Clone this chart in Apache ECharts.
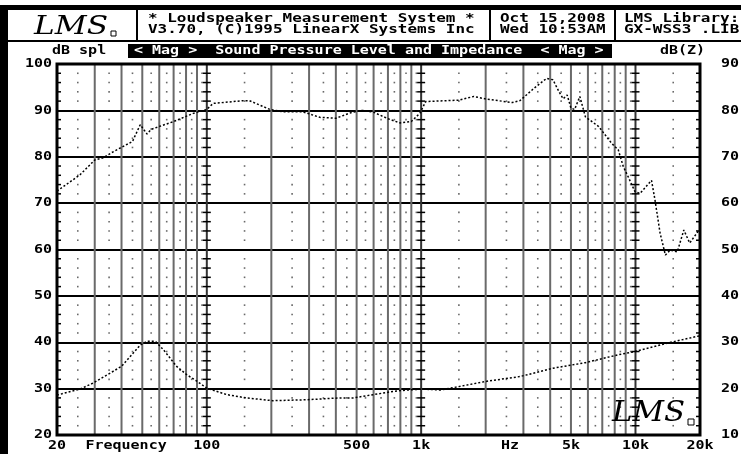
<!DOCTYPE html>
<html><head><meta charset="utf-8">
<script src="https://cdn.jsdelivr.net/npm/echarts@6/dist/echarts.min.js"></script>
<style>html,body{margin:0;padding:0;background:#fff}#c{width:741px;height:454px}</style>
</head><body><div id="c"></div>
<script>
// ---- data ----
const splFreq = [20, 25.6, 30, 33, 36, 45, 48.9, 52.6, 55, 70, 87, 100, 107, 148, 158, 197, 227, 280, 337, 400, 470, 530, 600, 700, 796, 900, 987, 1050, 1500, 1760, 2030, 2660, 2890, 3370, 3850, 4120, 4400, 4600, 4800, 5000, 5200, 5500, 5840, 6740, 7740, 8310, 8770, 9240, 9940, 10510, 11880, 12330, 13030, 13790, 14540, 15670, 16810, 17900, 19800];
const splDb = [72.6, 76.1, 79.3, 79.8, 80.9, 83.3, 86.9, 84.9, 85.9, 87.6, 89.4, 90.2, 91.5, 92.1, 92.1, 90.2, 89.7, 89.7, 88.5, 88.3, 89.5, 90.0, 89.6, 88.2, 87.3, 87.6, 89.4, 91.9, 92.2, 93.0, 92.4, 91.7, 92.1, 94.8, 96.9, 96.6, 94.0, 92.5, 93.3, 90.5, 90.2, 93.0, 88.6, 86.5, 82.9, 81.5, 77.9, 75.7, 72.5, 72.1, 74.9, 70.7, 63.5, 58.8, 59.9, 59.5, 64.2, 61.4, 64.2];
const zFreq = [20, 25.6, 29.5, 40, 48.9, 52.6, 57.5, 62.7, 72.3, 80.6, 89.9, 100, 124, 153, 203, 292, 418, 482, 599, 739, 856, 1025, 1230, 1370, 2030, 2890, 4120, 5840, 8310, 9940, 14000, 20000];
const zDb = [18.6, 19.9, 21.2, 24.8, 29.4, 30.2, 30.2, 28.4, 24.8, 23.0, 21.6, 20.1, 18.7, 18.0, 17.4, 17.6, 18.0, 18.0, 18.7, 19.4, 19.7, 19.9, 19.7, 20.1, 21.6, 22.6, 24.4, 25.6, 27.3, 28.0, 29.8, 31.4];

const leftLabels = [20, 30, 40, 50, 60, 70, 80, 90, 100];
const rightLabels = [10, 20, 30, 40, 50, 60, 70, 80, 90];
const xLabelFreq = [20, 42, 100, 500, 1000, 2600, 5000, 10000, 20000];
const xLabelText = ['20', 'Frequency', '100', '500', '1k', 'Hz', '5k', '10k', '20k'];

const gridFreqs = [30, 40, 50, 60, 70, 80, 90, 200, 300, 400, 500, 600, 700, 800, 900, 2000, 3000, 4000, 5000, 6000, 7000, 8000, 9000];
const decadeFreqs = [100, 1000, 10000];
const midFreqs = [25, 35, 45, 55, 65, 75, 85, 95, 150, 250, 350, 450, 550, 650, 750, 850, 950, 1500, 2500, 3500, 4500, 5500, 6500, 7500, 8500, 9500, 15000];
const minorDb = [22, 24, 26, 28, 32, 34, 36, 38, 42, 44, 46, 48, 52, 54, 56, 58, 62, 64, 66, 68, 72, 74, 76, 78, 82, 84, 86, 88, 92, 94, 96, 98];
const tickFreqs = [20, 100, 1000, 10000, 20000];

const headerLine1 = ['* Loudspeaker Measurement System *', 'Oct 15,2008', 'LMS Library:'];
const headerLine2 = ['V3.70, (C)1995 LinearX Systems Inc', 'Wed 10:53AM', 'GX-WSS3 .LIB'];
const titleText = '< Mag >  Sound Pressure Level and Impedance  < Mag >';

// ---- chart ----
const FONT = 'bold 12px "DejaVu Sans Mono"';
const SX = 1.25;
const chart = echarts.init(document.getElementById('c'), null, {renderer: 'canvas'});

const zip = (a, b) => a.map((v, i) => [v, b[i]]);
const dots = [];
midFreqs.forEach(f => minorDb.forEach(d => dots.push([f, d])));
const ticks = [];
tickFreqs.forEach(f => minorDb.forEach(d => ticks.push([f, d])));

function vline(color) {
  return (p, api) => {
    const a = api.coord([api.value(0), 20]);
    const b = api.coord([api.value(0), 100]);
    return {type: 'line', shape: {x1: a[0], y1: a[1], x2: b[0], y2: b[1]}, style: {stroke: color, lineWidth: 2}};
  };
}

chart.setOption({
  animation: false,
  backgroundColor: '#fff',
  grid: {left: 57, right: 41, top: 64, bottom: 19, show: true, borderColor: '#000', borderWidth: 3, backgroundColor: 'transparent', z: 10},
  xAxis: {type: 'log', logBase: 10, min: 20, max: 20000, axisLine: {show: false}, axisTick: {show: false}, axisLabel: {show: false}, splitLine: {show: false}},
  yAxis: [
    {type: 'value', min: 20, max: 100, interval: 10, position: 'left', axisLine: {show: false}, axisTick: {show: false}, axisLabel: {show: false},
      splitLine: {show: true, lineStyle: {color: '#000', width: 2}}},
    {type: 'value', min: 10, max: 90, interval: 10, position: 'right', axisLine: {show: false}, axisTick: {show: false}, axisLabel: {show: false}, splitLine: {show: false}}
  ],
  series: [
    {type: 'custom', silent: true, z: 1, data: gridFreqs.map(f => [f, 20]), renderItem: vline('#6a6a6a')},
    {type: 'custom', silent: true, z: 2, data: decadeFreqs.map(f => [f, 20]), renderItem: vline('#333')},
    {type: 'scatter', silent: true, z: 2, symbol: 'rect', symbolSize: 1.6, itemStyle: {color: '#444'}, data: dots},
    {type: 'custom', silent: true, z: 3, data: ticks, renderItem: (p, api) => {
      const f = api.value(0);
      const c = api.coord([f, api.value(1)]);
      let x1 = c[0] - 4, x2 = c[0] + 4;
      if (f === 20) { x1 = c[0]; x2 = c[0] + 4; }
      if (f === 20000) { x1 = c[0] - 4; x2 = c[0]; }
      return {type: 'line', shape: {x1, y1: c[1], x2, y2: c[1]}, style: {stroke: '#000', lineWidth: 1.5}};
    }},
    {type: 'line', yAxisIndex: 0, data: zip(splFreq, splDb), symbol: 'none', z: 5,
      lineStyle: {color: '#000', width: 1.5, type: [2, 2]}},
    {type: 'line', yAxisIndex: 1, data: zip(zFreq, zDb), symbol: 'none', z: 5,
      lineStyle: {color: '#000', width: 1.5, type: [2, 2]}},
    // left y labels
    {type: 'custom', silent: true, z: 6, yAxisIndex: 0, data: leftLabels.map(v => [20, v]), renderItem: (p, api) => {
      const c = api.coord([20, api.value(1)]);
      return {type: 'text', x: c[0] - 5, y: c[1], scaleX: SX, style: {text: String(api.value(1)), font: FONT, fill: '#000', align: 'right', verticalAlign: 'middle'}};
    }},
    // right y labels
    {type: 'custom', silent: true, z: 6, yAxisIndex: 1, data: rightLabels.map(v => [20000, v]), renderItem: (p, api) => {
      const c = api.coord([20000, api.value(1)]);
      return {type: 'text', x: c[0] + 21, y: c[1], scaleX: SX, style: {text: String(api.value(1)), font: FONT, fill: '#000', align: 'left', verticalAlign: 'middle'}};
    }},
    // x labels
    {type: 'custom', silent: true, z: 6, data: xLabelFreq.map((f, i) => [f, 20, i]), renderItem: (p, api) => {
      const c = api.coord([api.value(0), 20]);
      return {type: 'text', x: c[0], y: c[1] + 11, scaleX: SX, style: {text: xLabelText[api.value(2)], font: FONT, fill: '#000', align: 'center', verticalAlign: 'middle'}};
    }}
  ],
  graphic: [
    {type: 'rect', shape: {x: 0, y: 5, width: 741, height: 5}, style: {fill: '#000'}},
    {type: 'rect', shape: {x: 0, y: 5, width: 8, height: 449}, style: {fill: '#000'}},
    {type: 'rect', shape: {x: 0, y: 40, width: 741, height: 2}, style: {fill: '#000'}},
    {type: 'rect', shape: {x: 136, y: 10, width: 2, height: 31}, style: {fill: '#000'}},
    {type: 'rect', shape: {x: 489, y: 10, width: 2, height: 31}, style: {fill: '#000'}},
    {type: 'rect', shape: {x: 614, y: 10, width: 2, height: 31}, style: {fill: '#000'}},
    {type: 'text', x: 34, y: 27, scaleX: 1.2, style: {text: 'LMS', font: 'italic 26px "DejaVu Serif"', fill: '#000', verticalAlign: 'middle'}},
    {type: 'rect', shape: {x: 111, y: 31, width: 5, height: 5}, style: {fill: '#fff', stroke: '#000', lineWidth: 1}},
    {type: 'text', x: 148, y: 19, scaleX: 1.33, style: {text: headerLine1[0], font: FONT, fill: '#000', verticalAlign: 'middle'}},
    {type: 'text', x: 148, y: 30, scaleX: 1.33, style: {text: headerLine2[0], font: FONT, fill: '#000', verticalAlign: 'middle'}},
    {type: 'text', x: 500, y: 19, scaleX: 1.33, style: {text: headerLine1[1], font: FONT, fill: '#000', verticalAlign: 'middle'}},
    {type: 'text', x: 500, y: 30, scaleX: 1.33, style: {text: headerLine2[1], font: FONT, fill: '#000', verticalAlign: 'middle'}},
    {type: 'text', x: 624, y: 19, scaleX: 1.33, style: {text: headerLine1[2], font: FONT, fill: '#000', verticalAlign: 'middle'}},
    {type: 'text', x: 624, y: 30, scaleX: 1.33, style: {text: headerLine2[2], font: FONT, fill: '#000', verticalAlign: 'middle'}},
    {type: 'text', x: 52, y: 51, scaleX: SX, style: {text: 'dB spl', font: FONT, fill: '#000', verticalAlign: 'middle'}},
    {type: 'rect', shape: {x: 128, y: 44, width: 484, height: 14}, style: {fill: '#000'}},
    {type: 'text', x: 134, y: 51, scaleX: SX, style: {text: titleText, font: FONT, fill: '#fff', verticalAlign: 'middle'}},
    {type: 'text', x: 660, y: 51, scaleX: SX, style: {text: 'dB(Z)', font: FONT, fill: '#000', verticalAlign: 'middle'}},
    {type: 'text', x: 612, y: 414, scaleX: 1.1, style: {text: 'LMS', font: 'italic 28px "DejaVu Serif"', fill: '#000', verticalAlign: 'middle'}, z: 20},
    {type: 'rect', shape: {x: 688, y: 419, width: 6, height: 6}, style: {fill: '#fff', stroke: '#000', lineWidth: 1}, z: 20}
  ]
});
</script></body></html>
